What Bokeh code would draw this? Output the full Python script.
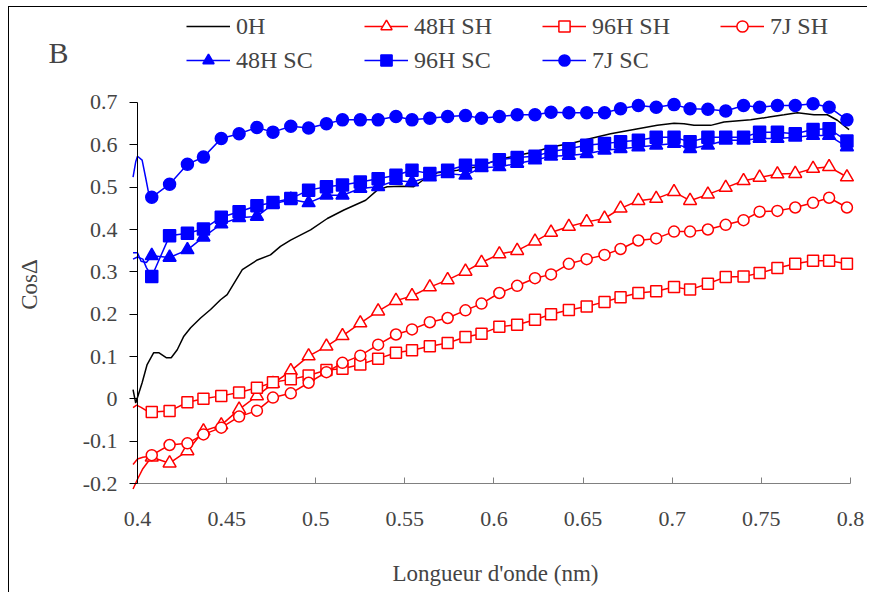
import math
from bokeh.plotting import figure
from bokeh.models import Legend, LegendItem, FixedTicker, Label, Range1d
from bokeh.embed import file_html
from bokeh.resources import INLINE

# ---- data ----
wl = [0.408, 0.418, 0.428, 0.437, 0.447, 0.457, 0.467, 0.476, 0.486, 0.496,
      0.506, 0.515, 0.525, 0.535, 0.545, 0.554, 0.564, 0.574, 0.584, 0.593,
      0.603, 0.613, 0.623, 0.632, 0.642, 0.652, 0.662, 0.671, 0.681, 0.691,
      0.701, 0.710, 0.720, 0.730, 0.740, 0.749, 0.759, 0.769, 0.779, 0.788, 0.798]

h0_x = [0.3975, 0.399, 0.4026, 0.4054, 0.4091, 0.4119, 0.4163, 0.4189, 0.4223, 0.426,
        0.4298, 0.4354, 0.441, 0.4466, 0.4503, 0.4588, 0.4672, 0.4746, 0.4802, 0.4859,
        0.4971, 0.5065, 0.5158, 0.528, 0.5345, 0.5401, 0.5476, 0.555, 0.5626, 0.5682,
        0.5794, 0.5906, 0.6019, 0.6131, 0.6243, 0.6318, 0.643, 0.6542, 0.6654, 0.6785,
        0.6916, 0.701, 0.7066, 0.7122, 0.7216, 0.729, 0.744, 0.7534, 0.7627, 0.7702,
        0.7795, 0.787, 0.7926, 0.7992]
h0_y = [0.022, -0.010, 0.038, 0.081, 0.109, 0.109, 0.097, 0.097, 0.116, 0.148,
        0.168, 0.191, 0.211, 0.234, 0.246, 0.305, 0.328, 0.340, 0.360, 0.375,
        0.399, 0.426, 0.446, 0.469, 0.493, 0.501, 0.502, 0.501, 0.524, 0.534,
        0.540, 0.548, 0.564, 0.575, 0.585, 0.595, 0.603, 0.615, 0.626, 0.636,
        0.646, 0.651, 0.650, 0.646, 0.646, 0.654, 0.659, 0.665, 0.671, 0.676,
        0.671, 0.671, 0.658, 0.636]

sh48 = [-0.138, -0.152, -0.123, -0.076, -0.062, -0.025, 0.007, 0.036, 0.066, 0.101,
        0.124, 0.149, 0.179, 0.207, 0.232, 0.243, 0.264, 0.281, 0.301, 0.322,
        0.342, 0.350, 0.372, 0.393, 0.407, 0.418, 0.426, 0.450, 0.468, 0.473,
        0.489, 0.468, 0.483, 0.499, 0.515, 0.523, 0.531, 0.532, 0.544, 0.548, 0.524]
sh48_lead_x = [0.3975, 0.400, 0.403, 0.406]
sh48_lead_y = [-0.213, -0.190, -0.165, -0.148]

sh96 = [-0.031, -0.029, -0.008, 0.000, 0.007, 0.015, 0.026, 0.039, 0.046, 0.055,
        0.068, 0.071, 0.081, 0.095, 0.109, 0.115, 0.124, 0.132, 0.146, 0.154,
        0.170, 0.175, 0.187, 0.200, 0.210, 0.218, 0.229, 0.240, 0.250, 0.254,
        0.264, 0.258, 0.272, 0.288, 0.289, 0.297, 0.309, 0.319, 0.326, 0.326, 0.319]
sh96_lead_x = [0.3975, 0.3995, 0.402, 0.405]
sh96_lead_y = [-0.021, -0.015, -0.020, -0.028]

sh7j = [-0.133, -0.109, -0.105, -0.084, -0.068, -0.042, -0.028, 0.003, 0.013, 0.038,
        0.063, 0.085, 0.102, 0.128, 0.152, 0.164, 0.181, 0.191, 0.209, 0.225,
        0.250, 0.267, 0.285, 0.294, 0.319, 0.330, 0.340, 0.354, 0.374, 0.379,
        0.395, 0.395, 0.400, 0.411, 0.422, 0.442, 0.444, 0.452, 0.463, 0.475, 0.452]
sh7j_lead_x = [0.3975, 0.400, 0.403, 0.406]
sh7j_lead_y = [-0.155, -0.142, -0.138, -0.136]

sc48 = [0.338, 0.334, 0.352, 0.382, 0.413, 0.428, 0.431, 0.460, 0.471, 0.463,
        0.481, 0.481, 0.497, 0.501, 0.516, 0.512, 0.524, 0.532, 0.528, 0.546,
        0.548, 0.556, 0.564, 0.573, 0.575, 0.579, 0.587, 0.591, 0.595, 0.599,
        0.603, 0.591, 0.599, 0.611, 0.611, 0.615, 0.615, 0.618, 0.622, 0.622, 0.595]
sc48_lead_x = [0.3975, 0.400, 0.402, 0.405]
sc48_lead_y = [0.345, 0.345, 0.325, 0.322]

sc96 = [0.289, 0.385, 0.391, 0.401, 0.429, 0.442, 0.456, 0.464, 0.473, 0.493,
        0.501, 0.505, 0.512, 0.520, 0.528, 0.540, 0.532, 0.540, 0.552, 0.552,
        0.565, 0.570, 0.573, 0.584, 0.591, 0.599, 0.603, 0.607, 0.611, 0.618,
        0.618, 0.607, 0.618, 0.618, 0.618, 0.630, 0.630, 0.626, 0.636, 0.638, 0.609]
sc96_lead_x = [0.3975, 0.400, 0.403, 0.405]
sc96_lead_y = [0.330, 0.335, 0.330, 0.310]

sc7j = [0.476, 0.507, 0.554, 0.571, 0.615, 0.626, 0.641, 0.630, 0.644, 0.640,
        0.650, 0.659, 0.659, 0.659, 0.667, 0.659, 0.663, 0.667, 0.669, 0.663,
        0.667, 0.671, 0.671, 0.677, 0.676, 0.676, 0.676, 0.685, 0.693, 0.689,
        0.695, 0.685, 0.684, 0.680, 0.693, 0.689, 0.693, 0.693, 0.697, 0.689, 0.659]
sc7j_lead_x = [0.3975, 0.399, 0.400, 0.4026, 0.4045, 0.4063]
sc7j_lead_y = [0.524, 0.560, 0.573, 0.564, 0.524, 0.485]

x_ticks = [0.4, 0.45, 0.5, 0.55, 0.6, 0.65, 0.7, 0.75, 0.8]
x_labels = ["0.4", "0.45", "0.5", "0.55", "0.6", "0.65", "0.7", "0.75", "0.8"]
y_ticks = [-0.2, -0.1, 0, 0.1, 0.2, 0.3, 0.4, 0.5, 0.6, 0.7]
y_labels = ["-0.2", "-0.1", "0", "0.1", "0.2", "0.3", "0.4", "0.5", "0.6", "0.7"]

FONT = "Liberation Serif"
RED = "#FF0000"
BLUE = "#0000FF"

# The frame fills the whole figure; both axes are drawn at fixed data
# locations inside it so that nothing is clipped.
p = figure(width=859, height=586, output_backend="svg", toolbar_location=None,
           x_range=Range1d(0.32819, 0.8101), y_range=Range1d(-0.4598, 0.9244),
           min_border_left=0, min_border_right=0, min_border_top=0, min_border_bottom=0)
p.styles = {"margin-left": "8px", "margin-top": "6px",
            "border-top": "1px solid black", "border-left": "1px solid black"}
p.xgrid.visible = False
p.ygrid.visible = False
p.outline_line_color = None

# x axis
xa = p.xaxis[0]
xa.fixed_location = -0.2
xa.bounds = (0.4, 0.8)
xa.ticker = FixedTicker(ticks=x_ticks)
xa.major_label_overrides = dict(zip(x_ticks, x_labels))
xa.major_tick_in = 6
xa.major_tick_out = 0
xa.minor_tick_line_color = None
xa.axis_line_color = "#808080"
xa.major_tick_line_color = "#808080"
xa.major_label_text_font = FONT
xa.major_label_text_font_size = "22px"
xa.major_label_standoff = 28

# y axis
ya = p.yaxis[0]
ya.fixed_location = 0.4
ya.bounds = (-0.2, 0.7)
ya.ticker = FixedTicker(ticks=y_ticks)
ya.major_label_overrides = dict(zip(y_ticks, y_labels))
ya.major_tick_in = 0
ya.major_tick_out = 8
ya.minor_tick_line_color = None
ya.axis_line_color = "black"
ya.major_label_text_font = FONT
ya.major_label_text_font_size = "22px"
ya.major_label_standoff = 12

# axis titles (placed as text so they centre on the drawn axes)
p.add_layout(Label(x=486, y=20, x_units="screen", y_units="screen",
                   text="Longueur d'onde (nm)", text_font=FONT, text_font_size="23px",
                   text_align="center", text_baseline="middle"))
p.add_layout(Label(x=20, y=309, x_units="screen", y_units="screen",
                   text="CosΔ", text_font=FONT, text_font_size="23px", angle=math.pi / 2,
                   text_align="center", text_baseline="middle"))

items = []

r0 = p.line(h0_x, h0_y, line_color="black", line_width=1.5)
items.append(("0H", [r0]))

def series(lead_x, lead_y, ys, color, marker, fill, size):
    lx = lead_x + wl
    ly = lead_y + ys
    rl = p.line(lx, ly, line_color=color, line_width=1.5)
    rs = p.scatter(wl, ys, marker=marker, size=size, line_color=color, line_width=1.5,
                   fill_color=fill)
    return [rl, rs]

items.append(("48H SH", series(sh48_lead_x, sh48_lead_y, sh48, RED, "triangle", "white", 13)))
items.append(("96H SH", series(sh96_lead_x, sh96_lead_y, sh96, RED, "square", "white", 11)))
items.append(("7J SH", series(sh7j_lead_x, sh7j_lead_y, sh7j, RED, "circle", "white", 11)))
items.append(("48H SC", series(sc48_lead_x, sc48_lead_y, sc48, BLUE, "triangle", BLUE, 13)))
items.append(("96H SC", series(sc96_lead_x, sc96_lead_y, sc96, BLUE, "square", BLUE, 12)))
items.append(("7J SC", series(sc7j_lead_x, sc7j_lead_y, sc7j, BLUE, "circle", BLUE, 12)))

legend = Legend(items=[LegendItem(label=l, renderers=r) for l, r in items],
                location=(177, 519), orientation="horizontal", ncols=4,
                glyph_width=44, glyph_height=28, label_standoff=6, label_width=122,
                spacing=6, padding=0, margin=0,
                label_text_font=FONT, label_text_font_size="24px",
                border_line_alpha=0, background_fill_alpha=0)
p.add_layout(legend, "center")

p.add_layout(Label(x=49, y=541, x_units="screen", y_units="screen", text="B",
                   text_font=FONT, text_font_size="30px",
                   text_align="center", text_baseline="middle"))

open("out.html", "w").write(file_html(p, INLINE))
